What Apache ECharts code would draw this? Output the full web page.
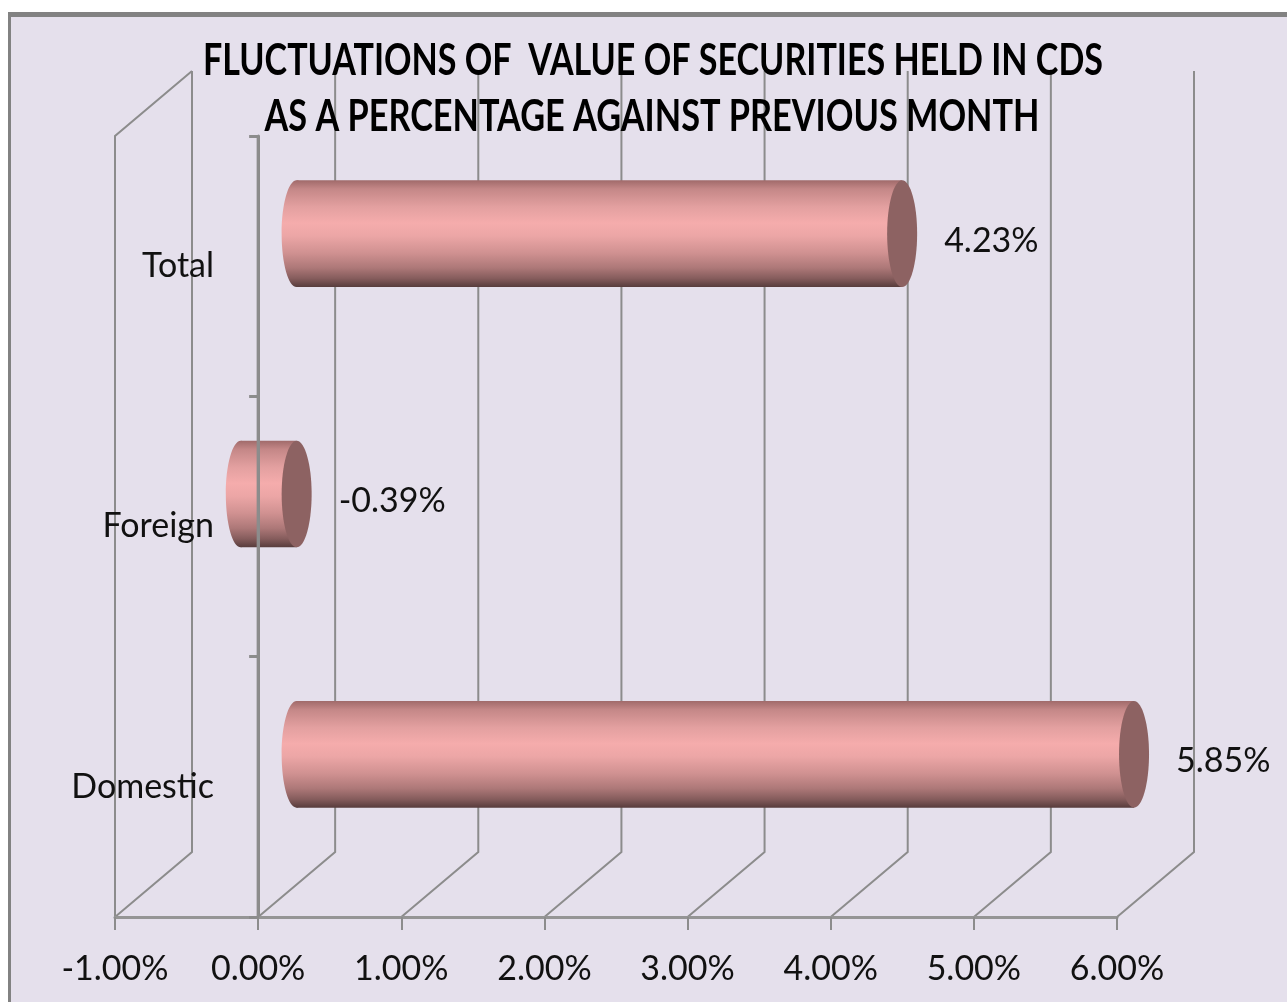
<!DOCTYPE html>
<html>
<head>
<meta charset="utf-8">
<title>Fluctuations of value of securities held in CDS</title>
<script src="https://cdn.jsdelivr.net/npm/echarts@6/dist/echarts.min.js"></script>
<style>
  html, body { margin: 0; padding: 0; background: #fff; overflow: hidden; }
  #frame {
    position: absolute; left: 8px; top: 12px; width: 1300px; height: 1010px;
    background: #e5e0ec; border-top: 5px solid #828282; border-left: 3px solid #828282;
  }
  #main { position: absolute; left: 0; top: 0; width: 1287px; height: 1002px; }
</style>
</head>
<body>
<div id="frame"></div>
<div id="main"></div>
<script>
// 数据
const categories = ['Domestic', 'Foreign', 'Total'];
const changes = [5.85, -0.39, 4.23];
const tickValues = [-1, 0, 1, 2, 3, 4, 5, 6];
const titleLines = [
  'FLUCTUATIONS OF  VALUE OF SECURITIES HELD IN CDS',
  'AS A PERCENTAGE AGAINST PREVIOUS MONTH'
];

// 3D 透视偏移（前墙 -> 后墙）
const DX = 77, DY = -65;
const FONT = 'Lato, "Liberation Sans", sans-serif';
const LINE = '#8c8c8c';

// 按目标宽度压缩标题文字
const fitScale = (text, font, target) => {
  const ctx = document.createElement('canvas').getContext('2d');
  ctx.font = font;
  return target / ctx.measureText(text).width;
};

const titleFont = 'bold 44px ' + FONT;
const myChart = echarts.init(document.getElementById('main'));

const option = {
  backgroundColor: 'transparent',
  animation: false,
  graphic: [
    {
      id: 'title1', type: 'text', x: 653, y: 61, z: 10,
      scaleX: fitScale(titleLines[0], titleFont, 900),
      style: { text: titleLines[0], font: titleFont, fill: '#000', align: 'center', verticalAlign: 'middle' }
    },
    {
      id: 'title2', type: 'text', x: 652, y: 117, z: 10,
      scaleX: fitScale(titleLines[1], titleFont, 775),
      style: { text: titleLines[1], font: titleFont, fill: '#000', align: 'center', verticalAlign: 'middle' }
    }
  ],
  grid: { left: 115, right: 170, top: 136, bottom: 85, containLabel: false, outerBoundsMode: 'none' },
  xAxis: {
    type: 'value',
    min: -1,
    max: 6,
    interval: 1,
    z: 5,
    axisLine: { show: true, onZero: false, lineStyle: { color: '#959595', width: 3 } },
    axisTick: { show: true, length: 13, lineStyle: { color: LINE, width: 2 } },
    splitLine: { show: false },
    axisLabel: {
      margin: 35,
      fontFamily: FONT,
      fontSize: 34,
      color: '#111',
      formatter: v => v.toFixed(2) + '%'
    }
  },
  yAxis: {
    type: 'category',
    data: categories,
    z: 5,
    axisLine: { show: true, onZero: true, lineStyle: { color: LINE, width: 3 } },
    axisTick: { show: true, length: 9, lineStyle: { color: LINE, width: 3 } },
    // 标签相对网格左边缘定位，负 margin 让它贴近 0 轴
    axisLabel: { margin: -99, fontFamily: FONT, fontSize: 34, color: '#111' }
  },
  series: [
    {
      // 墙面与地面的网格线
      name: 'frame',
      type: 'custom',
      z: 0,
      silent: true,
      clip: false,
      data: tickValues.map(v => [v, 0]),
      encode: { x: 0, y: 1 },
      renderItem: (params, api) => {
        const cs = params.coordSys;
        const x = api.coord([api.value(0), 0])[0];
        const top = cs.y, bottom = cs.y + cs.height;
        const style = { stroke: LINE, lineWidth: 2, fill: null };
        const children = [{
          type: 'polyline',
          shape: { points: [[x, bottom], [x + DX, bottom + DY], [x + DX, top + DY]] },
          style
        }];
        if (params.dataIndex === 0) {
          children.push({
            type: 'polyline',
            shape: { points: [[x, bottom], [x, top], [x + DX, top + DY]] },
            style
          });
        }
        return { type: 'group', children };
      }
    },
    {
      // 圆柱
      name: 'change',
      type: 'custom',
      z: 1,
      clip: false,
      data: changes.map((v, i) => [v, i]),
      encode: { x: 0, y: 1 },
      renderItem: (params, api) => {
        const v = api.value(0);
        const i = api.value(1);
        const c0 = api.coord([0, i]);
        const c1 = api.coord([v, i]);
        const band = api.size([0, 1])[1];
        const ry = band * 0.205;
        const rx = 15;
        const cy = c0[1] + DY / 2;
        const xa = Math.min(c0[0], c1[0]) + DX / 2;
        const xb = Math.max(c0[0], c1[0]) + DX / 2;
        const grad = new echarts.graphic.LinearGradient(0, 0, 0, 1, [
          { offset: 0, color: '#a06a6a' },
          { offset: 0.08, color: '#c48787' },
          { offset: 0.25, color: '#e3a0a0' },
          { offset: 0.4, color: '#f5acac' },
          { offset: 0.52, color: '#eca6a6' },
          { offset: 0.68, color: '#d09191' },
          { offset: 0.82, color: '#ad7878' },
          { offset: 0.92, color: '#855c5c' },
          { offset: 1, color: '#573c3c' }
        ]);
        return {
          type: 'group',
          children: [
            { type: 'ellipse', shape: { cx: xa, cy, rx, ry }, style: { fill: grad } },
            { type: 'rect', shape: { x: xa, y: cy - ry, width: xb - xa, height: ry * 2 }, style: { fill: grad } },
            { type: 'ellipse', shape: { cx: xb, cy, rx, ry }, style: { fill: '#8d6262' } },
            {
              type: 'text',
              x: xb + rx + 27,
              y: cy + 7,
              style: {
                text: v.toFixed(2) + '%',
                font: '34px ' + FONT,
                fill: '#111',
                align: 'left',
                verticalAlign: 'middle'
              }
            }
          ]
        };
      }
    }
  ]
};

myChart.setOption(option);

// 0 轴前沿线压在圆柱之上：用坐标转换取位置
const zeroTop = myChart.convertToPixel({ gridIndex: 0 }, [0, categories.length - 1]);
const zeroBottom = myChart.convertToPixel({ gridIndex: 0 }, [0, 0]);
const halfBand = (zeroBottom[1] - zeroTop[1]) / (categories.length - 1) / 2;
myChart.setOption({
  graphic: [{
    id: 'zeroLine',
    type: 'line',
    z: 100,
    silent: true,
    shape: {
      x1: zeroTop[0], y1: zeroTop[1] - halfBand,
      x2: zeroBottom[0], y2: zeroBottom[1] + halfBand
    },
    style: { stroke: LINE, lineWidth: 3 }
  }]
});
</script>
</body>
</html>
